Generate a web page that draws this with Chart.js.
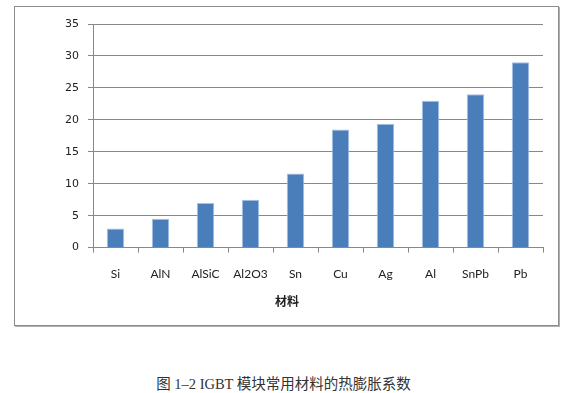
<!DOCTYPE html>
<html>
<head>
<meta charset="utf-8">
<script src="https://cdn.jsdelivr.net/npm/chart.js@4"></script>
<style>
  html, body { margin: 0; padding: 0; background: #fff; }
  body { width: 567px; height: 393px; position: relative; overflow: hidden; }
  #cadre {
    position: absolute; left: 14px; top: 6px; width: 543px; height: 318px;
    border: 1px solid #8c8c8c; box-shadow: 1px 1px 0 #b0b0b0;
  }
  #legende {
    position: absolute; left: 0; width: 567px; top: 372px; text-align: center;
    font-family: "Liberation Serif", "Noto Sans CJK SC", serif; font-size: 14.5px; color: #333;
  }
</style>
</head>
<body>
<div id="cadre"><canvas id="graphique" width="543" height="318"></canvas></div>
<div id="legende">图 1–2 IGBT 模块常用材料的热膨胀系数</div>
<script>
// Données
const materiaux = ['Si', 'AlN', 'AlSiC', 'Al2O3', 'Sn', 'Cu', 'Ag', 'Al', 'SnPb', 'Pb'];
const dilatation = [3, 4.5, 7, 7.5, 11.6, 18.5, 19.4, 23, 24, 29];
const graduationsY = [0, 5, 10, 15, 20, 25, 30, 35];

const ctx = document.getElementById('graphique').getContext('2d');
new Chart(ctx, {
  type: 'bar',
  data: {
    labels: materiaux,
    datasets: [{
      data: dilatation,
      backgroundColor: '#4a7ebb',
      borderColor: '#a9c2e6',
      borderWidth: 1,
      categoryPercentage: 1,
      barPercentage: 0.39
    }]
  },
  options: {
    responsive: false,
    animation: false,
    layout: { padding: { left: 16, right: 15, top: 17, bottom: 16 } },
    plugins: {
      legend: { display: false },
      tooltip: { enabled: false },
      title: {
        display: true,
        position: 'bottom',
        text: '材料',
        color: '#222',
        font: { family: '"Noto Sans CJK SC"', size: 12, weight: 'bold' },
        padding: { top: 14, bottom: 0 }
      }
    },
    scales: {
      x: {
        grid: { display: true, offset: true, drawOnChartArea: false, drawTicks: true, tickLength: 5, color: '#888' },
        border: { color: '#888' },
        ticks: { color: '#222', padding: 14, font: { family: 'Lato', size: 12 } },
        afterFit: s => { s.height = 33; }
      },
      y: {
        min: 0,
        max: 35,
        afterBuildTicks: s => { s.ticks = graduationsY.map(v => ({ value: v })); },
        grid: { color: '#888', tickLength: 5 },
        border: { color: '#888' },
        ticks: { color: '#222', padding: 9, font: { family: 'DejaVu Sans', size: 11 } },
        afterFit: s => { s.width = 62; }
      }
    }
  }
});
</script>
</body>
</html>
